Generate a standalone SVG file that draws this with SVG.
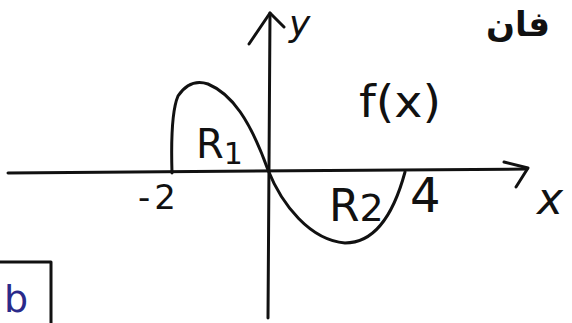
<svg xmlns="http://www.w3.org/2000/svg" width="572" height="323" viewBox="0 0 572 323">
<style>
.ln{fill:none;stroke:#111;stroke-width:3;stroke-linecap:round;stroke-linejoin:round}
.t{font-family:"DejaVu Sans","Liberation Sans",sans-serif;fill:#111}
</style>
<rect width="572" height="323" fill="#fff"/>
<g id="axes">
<path class="ln" d="M8,173 L527,169"/>
<path class="ln" d="M504,162 L528,168 L516,187"/>
<path class="ln" d="M268,318 L270,13"/>
<path class="ln" d="M249,44 L270,13 L284,27"/>
</g>
<g id="curve">
<path class="ln" d="M172,173 C171,140 172,110 178,96 C186,84 196,80 208,84 C232,94 250,120 268,170 C282,205 310,240 345,243 C372,243 392,220 405,172"/>
</g>
<g id="labels">
<text class="t" x="289" y="36" font-size="36" font-style="italic">y</text>
<text class="t" x="537" y="214" font-size="44" font-style="italic">x</text>
<text class="t" x="359" y="117" font-size="44" textLength="82" lengthAdjust="spacingAndGlyphs">f(x)</text>
<text class="t" x="196" y="158" font-size="40">R<tspan font-size="30" dy="6">1</tspan></text>
<text class="t" x="329" y="221" font-size="44">R<tspan font-size="38">2</tspan></text>
<text class="t" x="410" y="212" font-size="48">4</text>
<text class="t" x="138" y="209" font-size="34">-<tspan dx="4">2</tspan></text>
<text class="t" x="518" y="36" font-size="34" font-weight="bold" text-anchor="middle" direction="rtl" style="font-family:'DejaVu Sans','Noto Sans',sans-serif">فان</text>
</g>
<g id="box">
<path class="ln" d="M0,262 L51,262 L51,323"/>
<text x="4" y="312" font-size="38" fill="#2a2a8a" style="font-family:'DejaVu Sans',sans-serif">b</text>
</g>
</svg>
